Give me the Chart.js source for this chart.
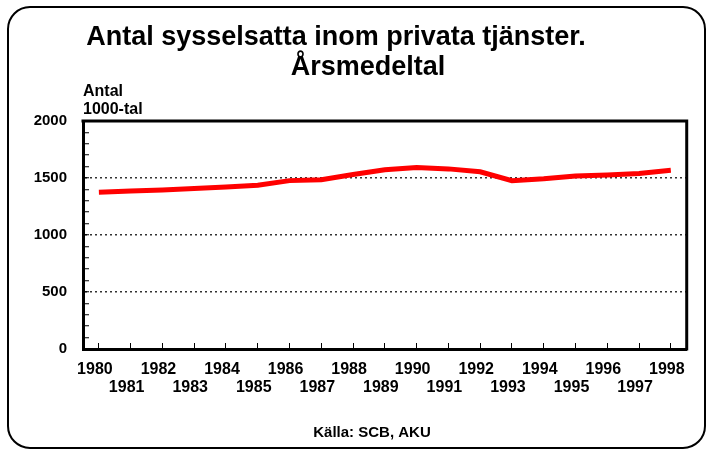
<!DOCTYPE html>
<html>
<head>
<meta charset="utf-8">
<script src="https://cdn.jsdelivr.net/npm/chart.js@4/dist/chart.umd.min.js"></script>
<style>
  html, body { margin: 0; padding: 0; background: #fff; }
  canvas { display: block; }
</style>
</head>
<body>
<canvas id="line-chart" width="707" height="452"></canvas>
<script>
// data (1000-tal)
var years = ['1980', '1981', '1982', '1983', '1984', '1985', '1986', '1987', '1988', '1989',
             '1990', '1991', '1992', '1993', '1994', '1995', '1996', '1997', '1998'];
var employed = [1375, 1386, 1395, 1407, 1420, 1437, 1477, 1485, 1530, 1573,
                1592, 1580, 1555, 1477, 1493, 1518, 1526, 1540, 1567];
var titleLines = ['Antal sysselsatta inom privata tjänster.', 'Årsmedeltal'];
var unitLines = ['Antal', '1000-tal'];
var sourceText = 'Källa: SCB, AKU';

var FONT = '"Liberation Sans", Arial, sans-serif';

// even years on first row, odd years on second row
var xLabels = years.map(function (y, i) {
    return i % 2 === 0 ? [y, ''] : ['', y];
});

var decorations = {
    id: 'decorations',
    afterDraw: function (chart) {
        var ctx = chart.ctx;
        var a = chart.chartArea;
        ctx.save();

        // frame round the whole picture
        ctx.strokeStyle = '#000';
        ctx.lineWidth = 2;
        ctx.beginPath();
        ctx.roundRect(8, 7, 697, 441, 22);
        ctx.stroke();

        // plot box (top and right sides)
        ctx.lineWidth = 3;
        ctx.beginPath();
        ctx.moveTo(a.left - 1.5, a.top);
        ctx.lineTo(a.right, a.top);
        ctx.lineTo(a.right, a.bottom + 1.5);
        ctx.stroke();

        ctx.fillStyle = '#000';
        ctx.textBaseline = 'alphabetic';

        // title
        ctx.font = 'bold 27px ' + FONT;
        ctx.textAlign = 'center';
        ctx.fillText(titleLines[0], 336, 45);
        ctx.fillText(titleLines[1], 368, 75);

        // unit label
        ctx.font = 'bold 16px ' + FONT;
        ctx.textAlign = 'left';
        ctx.fillText(unitLines[0], 83, 96);
        ctx.fillText(unitLines[1], 83, 114);

        // source
        ctx.font = 'bold 15px ' + FONT;
        ctx.textAlign = 'center';
        ctx.fillText(sourceText, 372, 437);
        ctx.restore();
    }
};

new Chart(document.getElementById('line-chart'), {
    type: 'line',
    data: {
        labels: xLabels,
        datasets: [{
            data: employed,
            borderColor: '#ff0000',
            borderWidth: 5,
            pointRadius: 0,
            tension: 0,
            fill: false
        }]
    },
    options: {
        responsive: false,
        animation: false,
        layout: { padding: { top: 121, right: 14, left: 0, bottom: 0 } },
        plugins: {
            legend: { display: false },
            title: { display: false },
            tooltip: { enabled: false }
        },
        scales: {
            x: {
                offset: true,
                afterFit: function (scale) { scale.height = 103; },
                border: { color: '#000', width: 3 },
                grid: {
                    color: 'rgba(0,0,0,0)',
                    tickColor: '#000',
                    tickLength: -6,
                    tickWidth: 1
                },
                ticks: {
                    color: '#000',
                    font: { family: FONT, size: 16, weight: 'bold', lineHeight: 1.125 },
                    padding: 18,
                    labelOffset: -4,
                    maxRotation: 0,
                    autoSkip: false
                }
            },
            y: {
                min: 0,
                max: 2000,
                afterFit: function (scale) { scale.width = 83; },
                border: { color: '#000', width: 3, dash: [2, 3] },
                grid: {
                    color: function (c) {
                        var v = c.tick ? c.tick.value : 0;
                        return (v % 500 === 0 && v > 0 && v < 2000) ? '#333' : 'rgba(0,0,0,0)';
                    },
                    lineWidth: 1.5,
                    tickColor: '#000',
                    tickLength: -6,
                    tickWidth: 1
                },
                ticks: {
                    stepSize: 100,
                    autoSkip: false,
                    color: '#000',
                    padding: 22,
                    font: { family: FONT, size: 15, weight: 'bold' },
                    callback: function (v) { return v % 500 === 0 ? v : ''; }
                }
            }
        }
    },
    plugins: [decorations]
});
</script>
</body>
</html>
